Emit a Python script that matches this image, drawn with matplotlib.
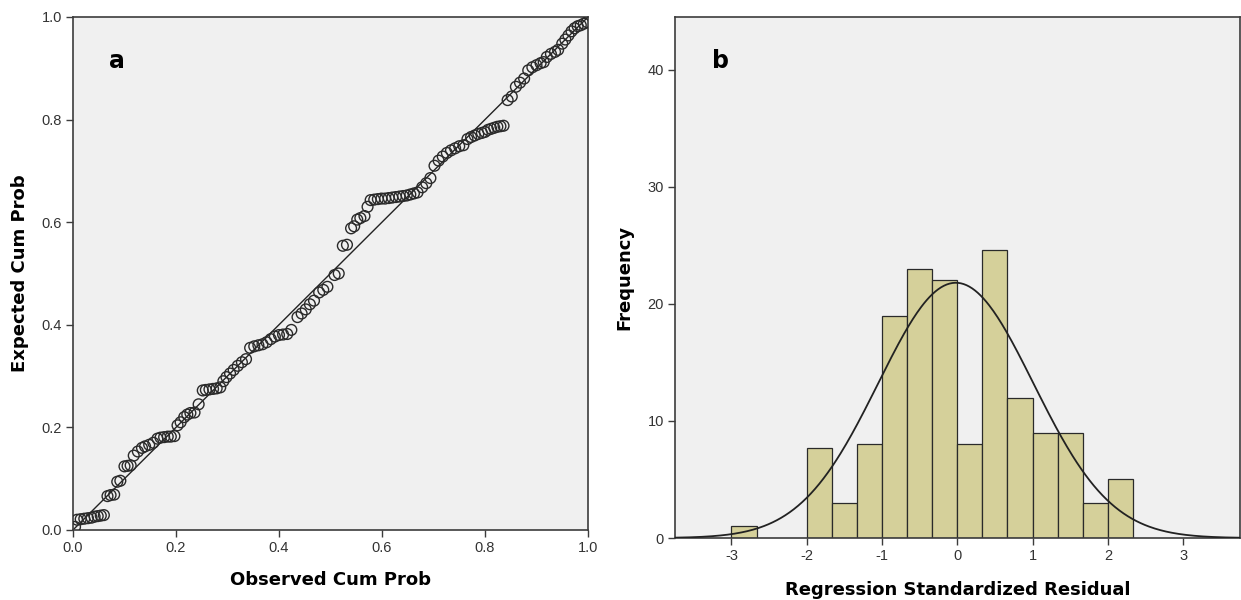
import numpy as np
import matplotlib
matplotlib.use("Agg")
import matplotlib.pyplot as plt

plt.rcParams['font.family'] = ['DejaVu Sans']
plt.rcParams['axes.unicode_minus'] = False

# panel a: normal P-P plot of regression standardized residual
obs_cum_prob = [
    0.004,
    0.008, 0.015, 0.022, 0.029, 0.036, 0.042, 0.048, 0.054, 0.060,
    0.067, 0.073, 0.080,
    0.086, 0.092,
    0.100, 0.106, 0.112,
    0.118, 0.126,
    0.134, 0.140, 0.148, 0.156,
    0.164, 0.170, 0.177, 0.184, 0.190, 0.197,
    0.203, 0.209,
    0.216, 0.222, 0.228, 0.236,
    0.244,
    0.252, 0.258, 0.265, 0.272, 0.279, 0.286,
    0.292, 0.298,
    0.305, 0.312, 0.320, 0.328, 0.336,
    0.344, 0.352, 0.360, 0.368, 0.376,
    0.384, 0.392, 0.400, 0.408, 0.416, 0.424,
    0.436, 0.444, 0.452,
    0.460, 0.468,
    0.478, 0.486, 0.494,
    0.508, 0.516,
    0.524, 0.532,
    0.540, 0.546,
    0.552, 0.558, 0.566,
    0.572,
    0.578, 0.585, 0.592, 0.599, 0.606, 0.613, 0.620, 0.627, 0.634, 0.641, 0.648, 0.655, 0.662, 0.669,
    0.678, 0.686, 0.694,
    0.702, 0.710, 0.718,
    0.726, 0.734, 0.742, 0.750, 0.758,
    0.766, 0.773, 0.780, 0.787, 0.794, 0.800,
    0.806, 0.812, 0.818, 0.824, 0.830, 0.836,
    0.844, 0.852,
    0.860, 0.868, 0.876,
    0.884, 0.892, 0.900, 0.908, 0.914,
    0.920, 0.928, 0.936, 0.942,
    0.950, 0.956, 0.962, 0.968,
    0.974, 0.980, 0.986, 0.992, 0.998,
]
exp_cum_prob = [
    0.006,
    0.020, 0.021, 0.022, 0.023, 0.024, 0.026, 0.027, 0.028, 0.029,
    0.066, 0.068, 0.069,
    0.094, 0.096,
    0.124, 0.125, 0.126,
    0.145, 0.153,
    0.160, 0.163, 0.166, 0.170,
    0.178, 0.180, 0.181, 0.182, 0.182, 0.183,
    0.204, 0.210,
    0.220, 0.225, 0.228, 0.229,
    0.245,
    0.272, 0.273, 0.274, 0.275, 0.276, 0.278,
    0.290, 0.298,
    0.305, 0.312, 0.320, 0.327, 0.333,
    0.355, 0.358, 0.360, 0.362, 0.366,
    0.372, 0.377, 0.380, 0.381, 0.382, 0.390,
    0.415, 0.422, 0.430,
    0.440, 0.447,
    0.463, 0.468, 0.474,
    0.497, 0.500,
    0.554, 0.556,
    0.588, 0.592,
    0.605, 0.608, 0.612,
    0.630,
    0.643, 0.644, 0.645, 0.646, 0.646, 0.647, 0.648, 0.649, 0.650, 0.651, 0.652, 0.654, 0.656, 0.658,
    0.668, 0.676, 0.686,
    0.710, 0.720, 0.728,
    0.735, 0.740, 0.744, 0.748, 0.750,
    0.762, 0.766, 0.769, 0.772, 0.774, 0.776,
    0.780, 0.782, 0.784, 0.786, 0.787, 0.788,
    0.838, 0.845,
    0.864, 0.872, 0.880,
    0.896, 0.902, 0.906, 0.910, 0.912,
    0.922, 0.928, 0.932, 0.936,
    0.948, 0.956, 0.964, 0.972,
    0.978, 0.982, 0.984, 0.987, 0.990,
]

# panel b: histogram of residuals (bin width 1/3)
bin_left = [-3.0, -2.0, -5/3, -4/3, -1.0, -2/3, -1/3, 0.0, 1/3, 2/3, 1.0, 4/3, 5/3, 2.0]
counts = [1, 7.7, 3, 8, 19, 23, 22, 8, 24.6, 12, 9, 9, 3, 5]
bin_width = 1/3
curve_mean = -0.02
curve_sd = 1.03
curve_peak = 21.8

fig = plt.figure(figsize=(12.41, 6.0), dpi=100)
bg = '#F0F0F0'
frame = '#3C3C3C'

# --- panel a ---
ax1 = fig.add_axes([0.0588, 0.1167, 0.415, 0.855])
ax1.set_facecolor(bg)
ax1.plot([0, 1], [0, 1], color='#222222', lw=1.0, zorder=2)
ax1.scatter(obs_cum_prob, exp_cum_prob, s=60, facecolors='none',
            edgecolors='#2a2a2a', linewidths=1.0, zorder=3)
ax1.set_xlim(0, 1)
ax1.set_ylim(0, 1)
ax1.set_xticks(np.arange(0, 1.01, 0.2))
ax1.set_yticks(np.arange(0, 1.01, 0.2))
ax1.set_xticklabels(['0.0', '0.2', '0.4', '0.6', '0.8', '1.0'])
ax1.set_yticklabels(['0.0', '0.2', '0.4', '0.6', '0.8', '1.0'])
ax1.set_xlabel('Observed Cum Prob', fontsize=13, fontweight='bold')
ax1.set_ylabel('Expected Cum Prob', fontsize=13, fontweight='bold')
ax1.xaxis.set_label_coords(0.5, -0.08)
ax1.yaxis.set_label_coords(-0.085, 0.5)
ax1.text(0.07, 0.915, 'a', transform=ax1.transAxes, fontsize=17,
         fontweight='bold', va='center')

# --- panel b ---
ax2 = fig.add_axes([0.5439, 0.1033, 0.455, 0.8684])
ax2.set_facecolor(bg)
ax2.bar(bin_left, counts, width=bin_width, align='edge', color='#D5D09A',
        edgecolor='#2a2a2a', linewidth=0.9, zorder=2)
xs = np.linspace(-3.75, 3.75, 400)
ax2.plot(xs, curve_peak * np.exp(-0.5 * ((xs - curve_mean) / curve_sd) ** 2),
         color='#222222', lw=1.3, zorder=3)
ax2.set_xlim(-3.75, 3.75)
ax2.set_ylim(0, 44.5)
ax2.set_xticks([-3, -2, -1, 0, 1, 2, 3])
ax2.set_yticks([0, 10, 20, 30, 40])
ax2.set_xlabel('Regression Standardized Residual', fontsize=13, fontweight='bold')
ax2.set_ylabel('Frequency', fontsize=13, fontweight='bold')
ax2.xaxis.set_label_coords(0.5, -0.0825)
ax2.yaxis.set_label_coords(-0.074, 0.5)
ax2.text(0.065, 0.915, 'b', transform=ax2.transAxes, fontsize=17,
         fontweight='bold', va='center')

for ax in (ax1, ax2):
    for sp in ax.spines.values():
        sp.set_color(frame)
        sp.set_linewidth(1.2)
    ax.tick_params(direction='out', length=5, width=1.0, color=frame,
                   labelsize=10.5, labelcolor='#333333', pad=3)
    for lab in ax.get_xticklabels() + ax.get_yticklabels():
        lab.set_family('Liberation Sans')

fig.savefig('out.png', dpi=100)
